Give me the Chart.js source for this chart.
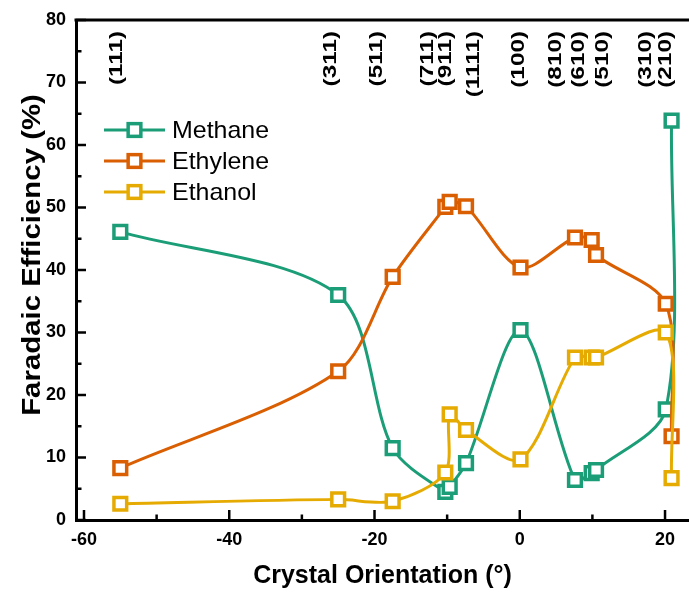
<!DOCTYPE html>
<html><head><meta charset="utf-8">
<script src="https://cdn.jsdelivr.net/npm/chart.js@4.4.1/dist/chart.umd.min.js"></script>
<style>html,body{margin:0;padding:0;background:#fff}#wrap{width:689px;height:593px}</style>
</head><body><div id="wrap"><canvas id="c" width="689" height="593"></canvas></div>
<script>
const seriesNames = ['Methane', 'Ethylene', 'Ethanol'];
const seriesColors = ['#1b9e77', '#d95f02', '#e6ab02'];
const methaneX  = [-55.0, -25.0, -17.5, -10.25, -9.65, -7.4, 0.1, 7.6, 9.9, 10.5, 20.1, 20.9];
const methaneY  = [46.1, 36.0, 11.5, 4.5, 5.3, 9.1, 30.4, 6.4, 7.5, 8.0, 17.7, 63.9];
const ethyleneX = [-55.0, -25.0, -17.5, -10.25, -9.65, -7.4, 0.1, 7.6, 9.9, 10.5, 20.1, 20.9];
const ethyleneY = [8.3, 23.8, 38.9, 50.1, 50.9, 50.2, 40.4, 45.2, 44.8, 42.4, 34.6, 13.4];
const ethanolX  = [-55.0, -25.0, -17.5, -10.25, -9.65, -7.4, 0.1, 7.6, 9.9, 10.5, 20.1, 20.9];
const ethanolY  = [2.6, 3.3, 3.0, 7.6, 16.9, 14.4, 9.7, 26.0, 26.0, 26.0, 30.0, 6.7];
const facetLabels = ['(111)', '(311)', '(511)', '(711)', '(911)', '(1111)', '(100)', '(810)', '(610)', '(510)', '(310)', '(210)'];
const facetPos    = [-55.6, -26.1, -19.8, -12.8, -10.3, -6.5, -0.3, 4.8, 8.0, 11.3, 17.2, 20.0];
const xMajorTicks = [-60, -40, -20, 0, 20];
const xMinorTicks = [-50, -30, -10, 10];
const yMajorTicks = [0, 10, 20, 30, 40, 50, 60, 70, 80];
const yMinorTicks = [5, 15, 25, 35, 45, 55, 65, 75];
const xTitle = 'Crystal Orientation (°)';
const yTitle = 'Faradaic Efficiency (%)';

const FONT = "'Liberation Sans', Arial, sans-serif";
const seriesX = [methaneX, ethyleneX, ethanolX];
const seriesY = [methaneY, ethyleneY, ethanolY];

const datasets = seriesNames.map((name, i) => ({
  label: name,
  data: seriesX[i].map((x, j) => ({x: x, y: seriesY[i][j]})),
  showLine: true,
  borderColor: seriesColors[i],
  backgroundColor: seriesColors[i],
  borderWidth: 3,
  tension: 0.3,
  fill: false,
  pointStyle: 'rect',
  pointRadius: 9,
  pointBorderWidth: 3.5,
  pointBorderColor: seriesColors[i],
  pointBackgroundColor: '#ffffff',
  order: 2 - i
}));

const decor = {
  id: 'decor',
  afterDatasetsDraw(chart) {
    const ctx = chart.ctx;
    const xs = chart.scales.x, ys = chart.scales.y;
    const a = chart.chartArea;
    ctx.save();
    ctx.strokeStyle = '#000';
    ctx.lineCap = 'butt';
    // top frame line
    ctx.lineWidth = 3;
    ctx.beginPath();
    ctx.moveTo(a.left - 1.5, a.top);
    ctx.lineTo(chart.width, a.top);
    ctx.stroke();
    ctx.lineWidth = 2.5;
    // inward ticks
    const tick = (x1, y1, x2, y2) => { ctx.beginPath(); ctx.moveTo(x1, y1); ctx.lineTo(x2, y2); ctx.stroke(); };
    xMajorTicks.forEach(v => { const p = xs.getPixelForValue(v); tick(p, a.bottom, p, a.bottom - 10); });
    xMinorTicks.forEach(v => { const p = xs.getPixelForValue(v); tick(p, a.bottom, p, a.bottom - 5.5); });
    yMajorTicks.forEach(v => { const p = ys.getPixelForValue(v); tick(a.left, p, a.left + 10, p); });
    yMinorTicks.forEach(v => { const p = ys.getPixelForValue(v); tick(a.left, p, a.left + 5.5, p); });
    // facet labels at top
    ctx.fillStyle = '#000';
    ctx.font = 'bold 18px ' + FONT;
    ctx.textAlign = 'right';
    ctx.textBaseline = 'middle';
    facetLabels.forEach((t, i) => {
      const p = xs.getPixelForValue(facetPos[i]);
      ctx.save();
      ctx.translate(p + 1, a.top + 11);
      ctx.rotate(-Math.PI / 2);
      ctx.scale(1.35, 1);
      ctx.fillText(t, 0, 0);
      ctx.restore();
    });
    // y title
    ctx.save();
    ctx.font = 'bold 26px ' + FONT;
    ctx.textAlign = 'center';
    ctx.textBaseline = 'alphabetic';
    ctx.translate(40, (a.top + a.bottom) / 2 - 15);
    ctx.rotate(-Math.PI / 2);
    ctx.scale(1.13, 1);
    ctx.fillText(yTitle, 0, 0);
    ctx.restore();
    // legend
    const lx = 104, lw = 61, ly0 = 130, dy = 31;
    ctx.font = '24px ' + FONT;
    ctx.textAlign = 'left';
    ctx.textBaseline = 'middle';
    seriesNames.forEach((n, i) => {
      const y = ly0 + i * dy;
      ctx.strokeStyle = seriesColors[i];
      ctx.lineWidth = 3;
      ctx.beginPath(); ctx.moveTo(lx, y); ctx.lineTo(lx + lw, y); ctx.stroke();
      const s = 12.7;
      ctx.fillStyle = '#fff';
      ctx.fillRect(lx + lw / 2 - s / 2, y - s / 2, s, s);
      ctx.lineWidth = 3.5;
      ctx.strokeRect(lx + lw / 2 - s / 2, y - s / 2, s, s);
      ctx.fillStyle = '#000';
      ctx.save();
      ctx.translate(172, y + 1);
      ctx.scale(1.04, 1);
      ctx.fillText(n, 0, 0);
      ctx.restore();
    });
    ctx.restore();
  }
};

new Chart(document.getElementById('c'), {
  type: 'scatter',
  data: { datasets: datasets },
  plugins: [decor],
  options: {
    responsive: false,
    animation: false,
    devicePixelRatio: 1,
    layout: { autoPadding: false, padding: { top: 20, right: 0, left: 0, bottom: 0 } },
    plugins: { legend: { display: false }, tooltip: { enabled: false } },
    scales: {
      x: {
        type: 'linear', min: -61.1, max: 23.3,
        grid: { display: false, drawTicks: false },
        border: { display: true, width: 3, color: '#000' },
        ticks: { color: '#000', font: { family: FONT, size: 18, weight: 'bold' }, padding: 9, maxRotation: 0 },
        afterBuildTicks: s => { s.ticks = xMajorTicks.map(v => ({ value: v })); },
        afterFit: s => { s.height = 73; s.paddingRight = 0; s.paddingLeft = 0; },
        title: { display: true, text: xTitle, color: '#000', font: { family: FONT, size: 25, weight: 'bold' }, padding: { top: 0, bottom: 2 } }
      },
      y: {
        type: 'linear', min: 0, max: 80,
        grid: { display: false, drawTicks: false },
        border: { display: true, width: 3, color: '#000' },
        ticks: { color: '#000', font: { family: FONT, size: 18, weight: 'bold' }, padding: 10 },
        afterBuildTicks: s => { s.ticks = yMajorTicks.map(v => ({ value: v })); },
        afterFit: s => { s.width = 76; s.paddingTop = 0; s.paddingBottom = 0; },
        title: { display: false }
      }
    }
  }
});
</script></body></html>
